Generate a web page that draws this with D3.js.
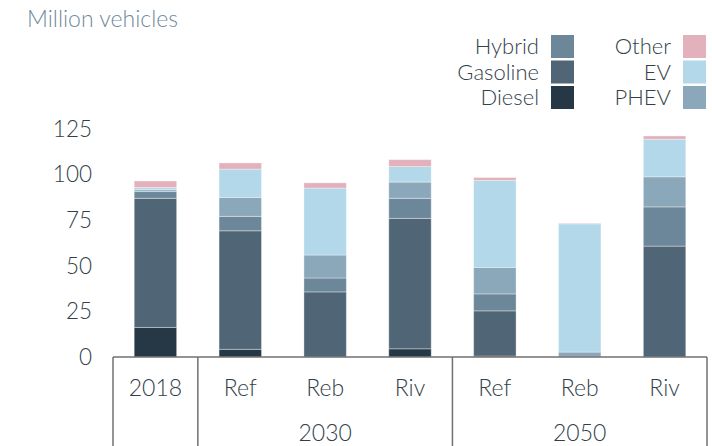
<!DOCTYPE html>
<html>
<head>
<meta charset="utf-8">
<script src="https://cdn.jsdelivr.net/npm/d3@7"></script>
<style>
  body { margin: 0; background: #fff; }
  text { font-family: Lato, "Open Sans", sans-serif; }
</style>
</head>
<body>
<div id="vis"></div>
<script>
//data----
const categories = ["2018", "Ref", "Reb", "Riv", "Ref", "Reb", "Riv"]
const groups = [
    {label: "2030", from: 1, to: 3},
    {label: "2050", from: 4, to: 6}
]
const seriesNames = ["Diesel", "Gasoline", "Hybrid", "PHEV", "EV", "Other"]
const diesel   = [16.2, 4.2, 0, 4.5, 0.5, 0, 0]
const gasoline = [70.8, 65.0, 35.7, 71.5, 24.8, 0, 60.8]
const hybrid   = [3.7, 7.9, 7.6, 11.0, 9.3, 0, 21.5]
const phev     = [1.0, 10.4, 12.6, 8.9, 14.5, 2.7, 16.5]
const ev       = [1.2, 15.5, 36.7, 8.5, 47.7, 70.3, 20.6]
const other    = [3.6, 3.4, 2.9, 3.8, 1.6, 0.3, 1.8]
const yTicks = [0, 25, 50, 75, 100, 125]

const colors = {
    Diesel: "#263746",
    Gasoline: "#506676",
    Hybrid: "#6c8799",
    PHEV: "#8ba8bb",
    EV: "#b2d8ea",
    Other: "#e2b1bc"
}

const seriesValues = [diesel, gasoline, hybrid, phev, ev, other]
const table = categories.map((c, i) => {
    const row = {idx: i}
    seriesNames.forEach((s, j) => row[s] = seriesValues[j][i])
    return row
})

//dimensions---
let dimensions = {
    width: 712,
    height: 446,
    margins: {left: 113, right: 5, top: 129, bottom: 89}
}
dimensions.boundedwidth = dimensions.width - dimensions.margins.left - dimensions.margins.right
dimensions.boundedheight = dimensions.height - dimensions.margins.top - dimensions.margins.bottom

const wrapper = d3.select("#vis").append("svg")
    .attr("width", dimensions.width)
    .attr("height", dimensions.height)

const bounds = wrapper.append("g")
    .attr("transform", `translate(${dimensions.margins.left},${dimensions.margins.top})`)

//scales----
const xScale = d3.scaleBand()
    .domain(d3.range(categories.length))
    .range([0, dimensions.boundedwidth])
    .paddingInner(0.5)
    .paddingOuter(0.25)

const yScale = d3.scaleLinear()
    .domain([0, 125])
    .range([dimensions.boundedheight, 0])

const textColor = "#333f4a"

//title
wrapper.append("text")
    .attr("x", 27)
    .attr("y", 27)
    .attr("fill", "#6f8a9b")
    .style("font-size", "23px")
    .style("font-weight", 300)
    .text("Million vehicles")

//legend
const legendItems = [
    {name: "Hybrid", col: 0, row: 0},
    {name: "Gasoline", col: 0, row: 1},
    {name: "Diesel", col: 0, row: 2},
    {name: "Other", col: 1, row: 0},
    {name: "EV", col: 1, row: 1},
    {name: "PHEV", col: 1, row: 2}
]
const legend = wrapper.append("g")
const li = legend.selectAll("g").data(legendItems).enter().append("g")
    .attr("transform", d => `translate(${d.col ? 683 : 551},${35 + d.row * 25.5})`)
li.append("rect")
    .attr("width", 23).attr("height", 23)
    .attr("fill", d => colors[d.name])
li.append("text")
    .attr("x", -12).attr("y", 11.5)
    .attr("dy", "0.35em")
    .attr("text-anchor", "end")
    .attr("fill", textColor)
    .style("font-size", "22px")
    .style("font-weight", 300)
    .text(d => d.name)

//y axis
const yAxis = bounds.append("g")
    .call(d3.axisLeft(yScale).tickValues(yTicks).tickSize(0).tickPadding(21))
yAxis.select(".domain").remove()
yAxis.selectAll("text")
    .attr("fill", textColor)
    .style("font-size", "22.5px")
    .style("font-weight", 300)

//bars
const stack = d3.stack().keys(seriesNames)(table)
bounds.append("g").selectAll("g")
    .data(stack).enter().append("g")
    .attr("fill", d => colors[d.key])
    .selectAll("rect")
    .data(d => d.filter(p => p[1] - p[0] > 0))
    .enter().append("rect")
    .attr("x", d => xScale(d.data.idx))
    .attr("y", d => yScale(d[1]))
    .attr("width", xScale.bandwidth())
    .attr("height", d => yScale(d[0]) - yScale(d[1]))
    .attr("stroke", "rgba(255,255,255,0.35)")
    .attr("stroke-width", 1)

//x axis
const step = xScale.step()
const edge = i => xScale(i) - step * xScale.paddingInner() / 2
const axisColor = "#707070"
const xAxis = bounds.append("g")
    .attr("transform", `translate(0,${dimensions.boundedheight})`)

xAxis.append("line")
    .attr("x1", 0).attr("x2", dimensions.boundedwidth)
    .attr("stroke", axisColor).attr("stroke-width", 1.5)

const seps = [0, 1, 4, categories.length]
const sepX = d => d === categories.length ? dimensions.boundedwidth : (d === 0 ? 0 : edge(d))
xAxis.selectAll(".sep").data(seps).enter().append("line")
    .attr("class", "sep")
    .attr("x1", sepX)
    .attr("x2", sepX)
    .attr("y1", 0).attr("y2", dimensions.margins.bottom)
    .attr("stroke", axisColor).attr("stroke-width", 1.5)

xAxis.selectAll(".cat").data(categories).enter().append("text")
    .attr("class", "cat")
    .attr("x", (d, i) => xScale(i) + xScale.bandwidth() / 2)
    .attr("y", 31)
    .attr("dy", "0.35em")
    .attr("text-anchor", "middle")
    .attr("fill", textColor)
    .style("font-size", "23px")
    .style("font-weight", 300)
    .text(d => d)

xAxis.selectAll(".grp").data(groups).enter().append("text")
    .attr("class", "grp")
    .attr("x", d => (sepX(d.from) + sepX(d.to + 1)) / 2)
    .attr("y", 76)
    .attr("dy", "0.35em")
    .attr("text-anchor", "middle")
    .attr("fill", textColor)
    .style("font-size", "23px")
    .style("font-weight", 300)
    .text(d => d.label)
</script>
</body>
</html>
